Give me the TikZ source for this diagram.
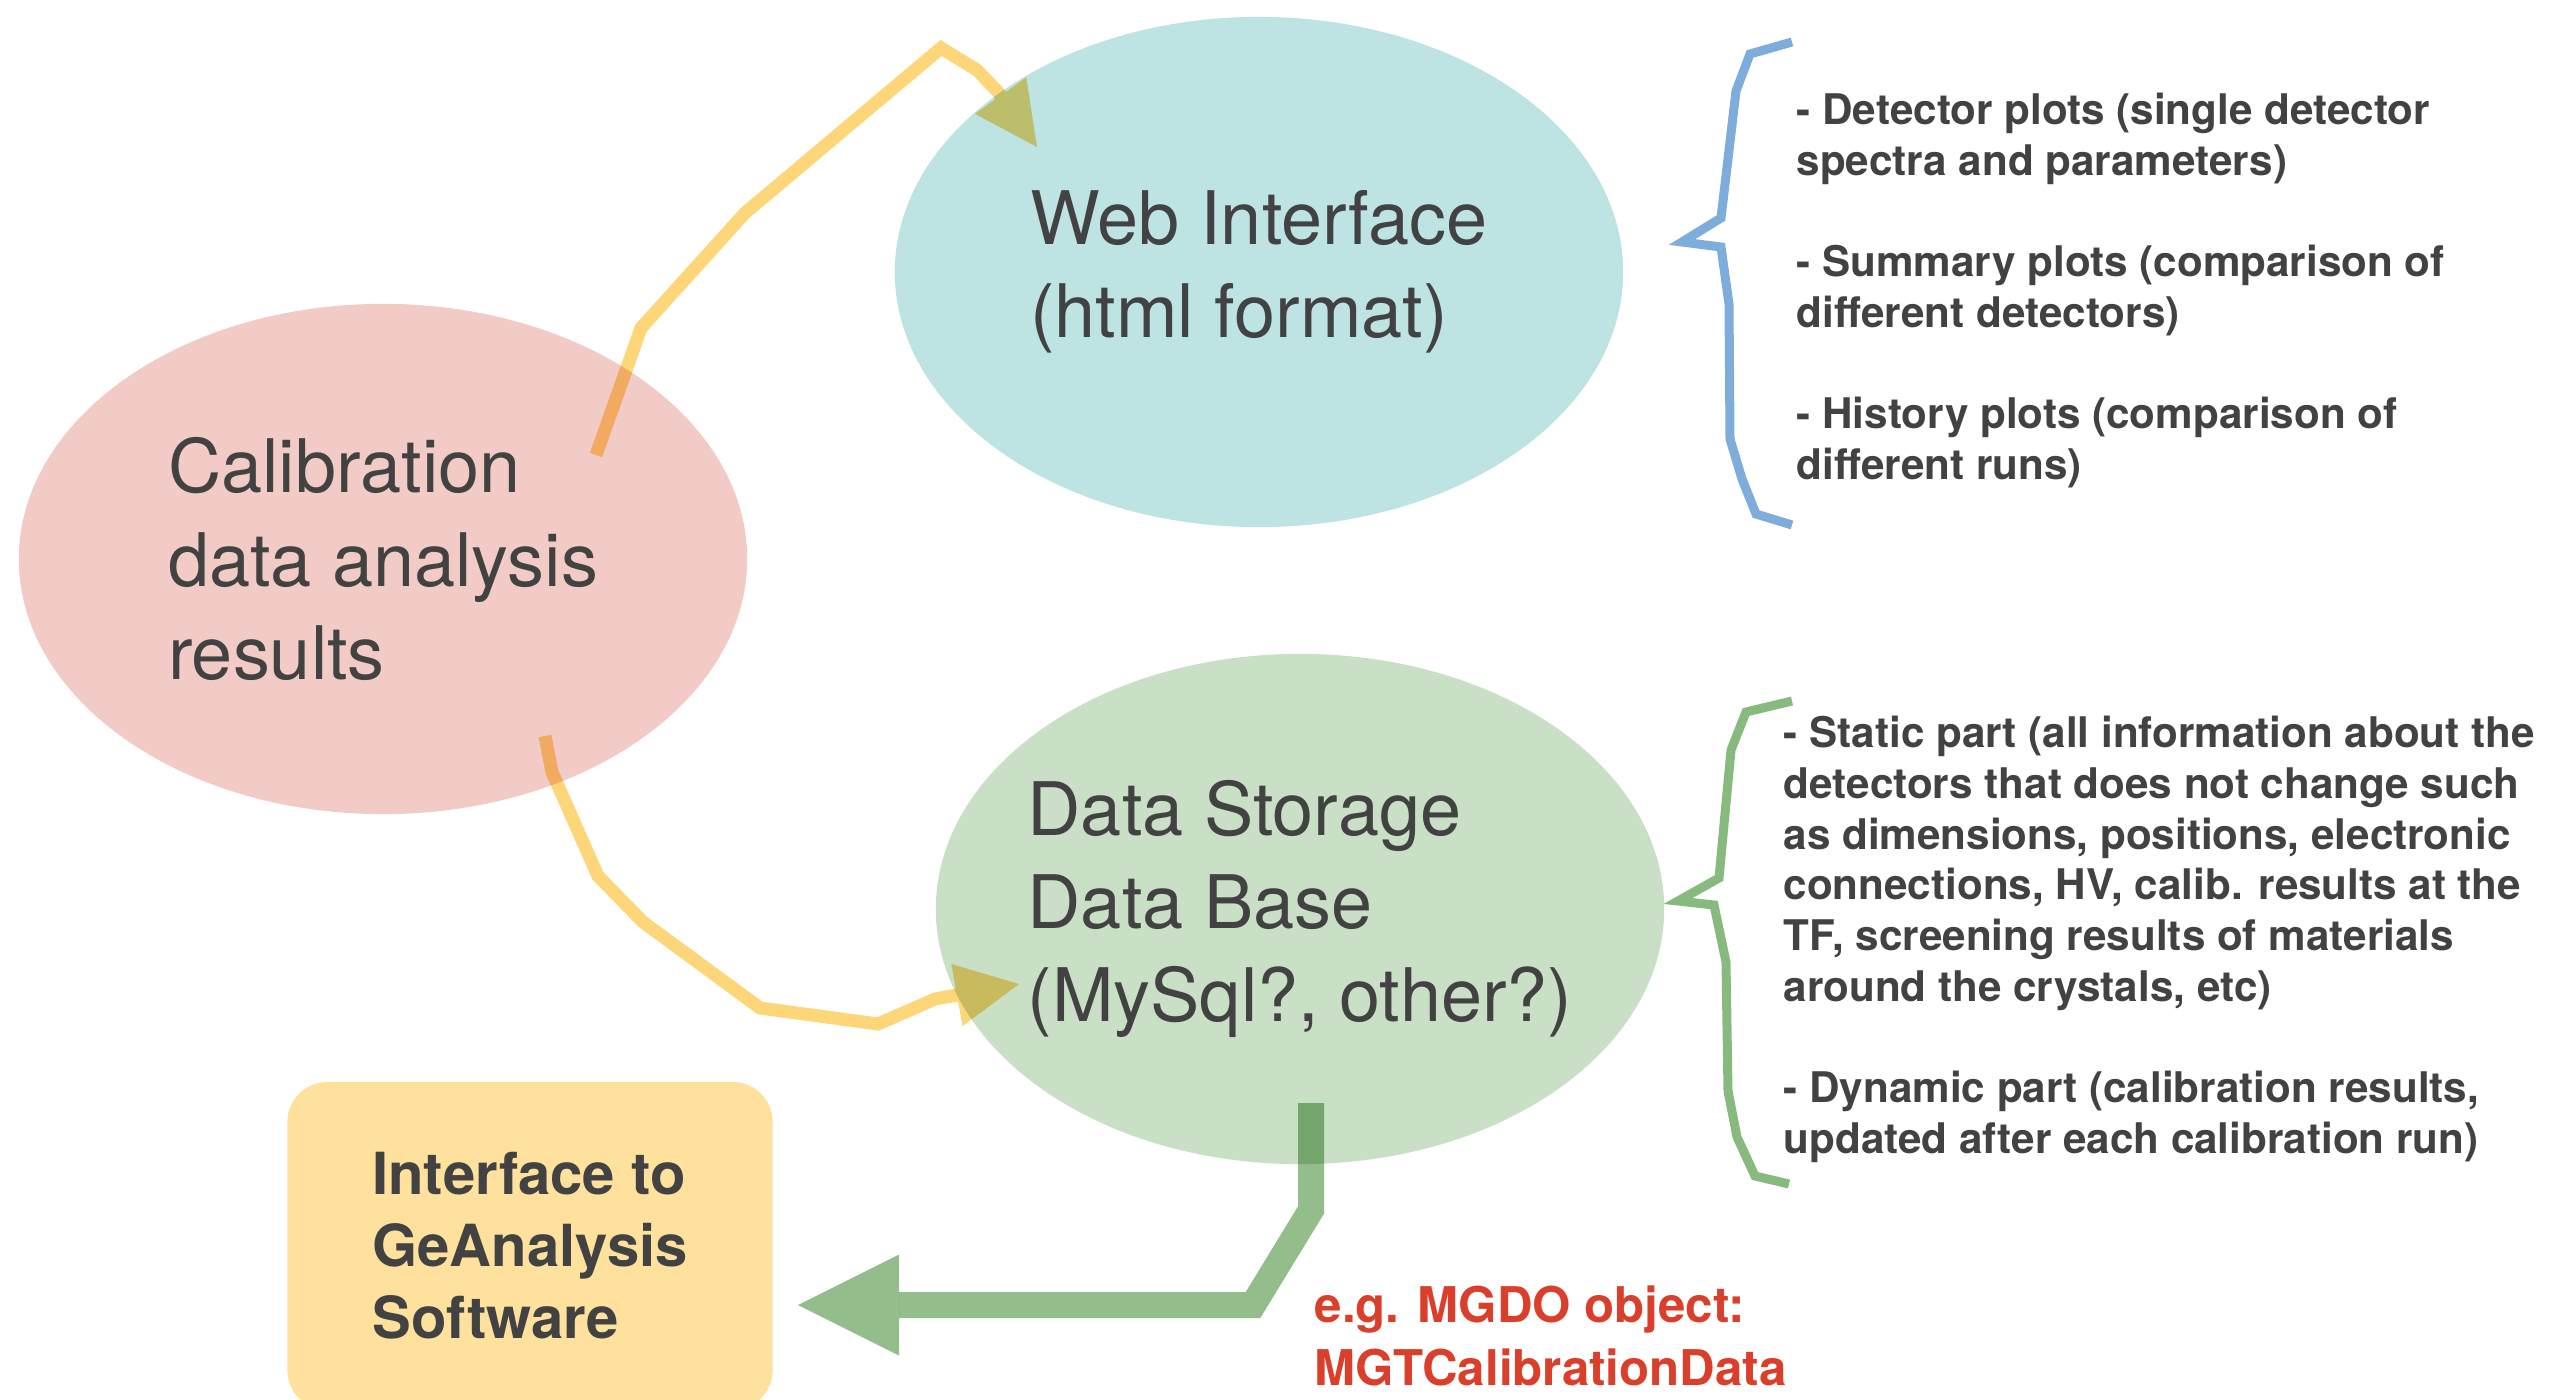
\documentclass[tikz,border=0pt]{standalone}
\usepackage{fontspec}
\setmainfont{TeX Gyre Heros}
\usetikzlibrary{arrows.meta,positioning,shapes.geometric}
\definecolor{txtgray}{HTML}{424242}
\definecolor{calibred}{HTML}{F2CBC7}
\definecolor{webcyan}{HTML}{BDE3E3}
\definecolor{storegreen}{HTML}{C9DFC6}
\definecolor{boxyellow}{HTML}{FEE19D}
\definecolor{flowyellow}{HTML}{FED67A}
\definecolor{flowgreen}{HTML}{93BE8C}
\definecolor{braceblue}{HTML}{7EADDC}
\definecolor{bracegreen}{HTML}{88BA7F}
\definecolor{notered}{HTML}{D93F2A}
\tikzset{%
   blob/.style={ellipse, inner xsep=-2mm, inner ysep=0mm, outer sep=0mm, minimum width=7.28cm, minimum height=5.1cm,
      align=left, text=txtgray, font=\fontsize{21}{26.5}\selectfont},
   softbox/.style={rectangle, rounded corners=4mm, inner sep=0mm, minimum width=4.85cm, minimum height=3.28cm,
      fill=boxyellow, align=left, text=txtgray, font=\fontsize{16.5}{20.5}\selectfont\bfseries},
   notes/.style={anchor=base west, inner sep=0mm, align=left, text=txtgray,
      font=\fontsize{12}{14.4}\selectfont\bfseries},
   flow/.style={line width=1.3mm, draw=flowyellow, blend mode=multiply,
      -{Triangle[length=6.3mm, width=6.3mm, line width=0pt]}},
   feed/.style={line width=2.6mm, draw=flowgreen, blend mode=multiply,
      -{Triangle[length=10.1mm, width=10.1mm, line width=0pt]}},
   brace/.style={line width=.9mm, line join=miter},
}

\begin{document}
\begin{tikzpicture}[x=0.01cm, y=-0.01cm, inner sep=1pt]
   \useasboundingbox (0,0) rectangle (2575,1400);
   \node[blob, fill=calibred] (calib) at (383,559) {Calibration\\data analysis\\results};
   \node[blob, fill=webcyan] (web) at (1259,272) {Web Interface\\(html format)};
   \node[blob, fill=storegreen] (store) at (1300,909) {Data Storage\\Data Base\\(MySql?, other?)};
   \node[softbox] (soft) at (530,1246) {Interface to\\GeAnalysis\\Software};
   \node[notes] (plots) at (1796,479) {- Detector plots (single detector\\spectra and parameters)\\[14.4pt]
      - Summary plots (comparison of\\different detectors)\\[14.4pt]
      - History plots (comparison of\\different runs)};
   \node[notes] (parts) at (1783,1153) {- Static part (all information about the\\detectors that does not change such\\
      as dimensions, positions, electronic\\connections, HV, calib. results at the\\
      TF, screening results of materials\\around the crystals, etc)\\[14.4pt]
      - Dynamic part (calibration results,\\updated after each calibration run)};
   \node[notes, text=notered, font=\fontsize{14}{17.9}\selectfont\bfseries] (mgdo) at (1314,1385)
      {e.g. MGDO object:\\MGTCalibrationData};
   \draw[brace, braceblue] (1792,42) -- (1750,54) -- (1736,91) -- (1721,218) -- (1682,242) -- (1721,247)
      -- (1729,304) -- (1730,439) -- (1742,479) -- (1756,514) -- (1792,525);
   \draw[brace, bracegreen] (1792,701) -- (1746,712) -- (1731,750) -- (1719,878) -- (1678,901) -- (1714,905)
      -- (1726,962) -- (1728,1091) -- (1737,1137) -- (1755,1176) -- (1789,1184);
   \coordinate (c2w) at (596,455);
   \coordinate (w-in) at (1037,147);
   \coordinate (c2s) at (545,736);
   \coordinate (s-in) at (1019,984);
   \coordinate (s-out) at (1311,1103);
   \coordinate (soft-in) at (798,1305);
   \draw[flow] (c2w) -- (641,328) -- (745,213) -- (941,48) -- (977,70) -- (998,92) -- (w-in);
   \draw[flow] (c2s) -- (552,772) -- (598,876) -- (643,922) -- (760,1008) -- (878,1024) -- (935,999) -- (s-in);
   \draw[feed] (s-out) -- (1311,1210) -- (1253,1305) -- (soft-in);
\end{tikzpicture}
\end{document}
